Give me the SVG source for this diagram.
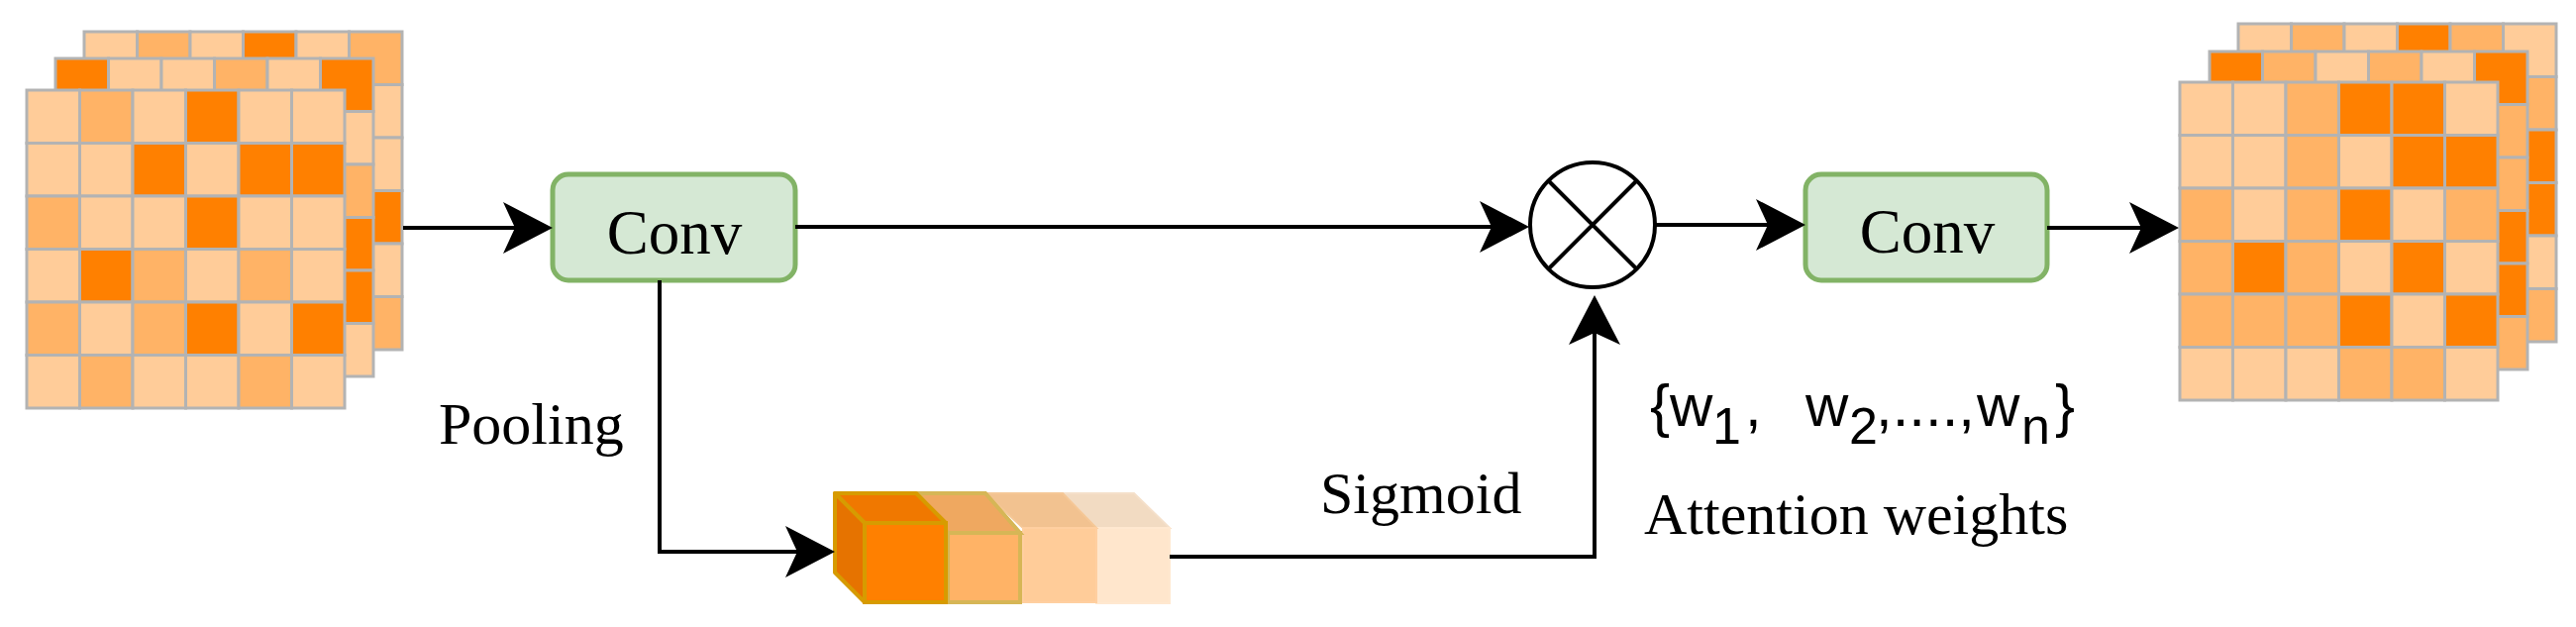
<svg xmlns="http://www.w3.org/2000/svg" xmlns:xlink="http://www.w3.org/1999/xlink" width="2601" height="633" viewBox="0 0 2601 633">
<style>
.L{fill:#FFCC99;stroke:#B3B3B3;stroke-width:3}
.M{fill:#FFB366;stroke:#B3B3B3;stroke-width:3}
.D{fill:#FF8000;stroke:#B3B3B3;stroke-width:3}
.box{fill:#D5E8D4;stroke:#82B366;stroke-width:5}
.lbl{font-family:"Liberation Serif","Times New Roman",serif;font-size:60px;fill:#000}
.conv{font-size:63px}
.sans{font-family:"Liberation Sans",Arial,sans-serif;font-size:60px;fill:#000}
.sub{font-size:52px}
.edge{fill:none;stroke:#000;stroke-width:4}
</style>
<defs>
<marker id="arr" markerUnits="userSpaceOnUse" viewBox="0 0 50 52" markerWidth="50" markerHeight="52" refX="12" refY="26" orient="auto">
<path d="M0,0 L50,26 L0,52 L12,26 Z" fill="#000"/>
</marker>
</defs>

<g id="input-stack">
<g transform="translate(85,32)">
<rect class="L" x="0" y="0" width="53.5" height="53.5"/><rect class="M" x="53.5" y="0" width="53.5" height="53.5"/><rect class="L" x="107" y="0" width="53.5" height="53.5"/><rect class="D" x="160.5" y="0" width="53.5" height="53.5"/><rect class="L" x="214" y="0" width="53.5" height="53.5"/><rect class="M" x="267.5" y="0" width="53.5" height="53.5"/>
<rect class="L" x="267.5" y="53.5" width="53.5" height="53.5"/>
<rect class="L" x="267.5" y="107" width="53.5" height="53.5"/>
<rect class="D" x="267.5" y="160.5" width="53.5" height="53.5"/>
<rect class="L" x="267.5" y="214" width="53.5" height="53.5"/>
<rect class="M" x="267.5" y="267.5" width="53.5" height="53.5"/>
</g>
<g transform="translate(56,59)">
<rect class="D" x="0" y="0" width="53.5" height="53.5"/><rect class="L" x="53.5" y="0" width="53.5" height="53.5"/><rect class="L" x="107" y="0" width="53.5" height="53.5"/><rect class="M" x="160.5" y="0" width="53.5" height="53.5"/><rect class="L" x="214" y="0" width="53.5" height="53.5"/><rect class="D" x="267.5" y="0" width="53.5" height="53.5"/>
<rect class="L" x="267.5" y="53.5" width="53.5" height="53.5"/>
<rect class="M" x="267.5" y="107" width="53.5" height="53.5"/>
<rect class="D" x="267.5" y="160.5" width="53.5" height="53.5"/>
<rect class="D" x="267.5" y="214" width="53.5" height="53.5"/>
<rect class="L" x="267.5" y="267.5" width="53.5" height="53.5"/>
</g>
<g transform="translate(27,91)">
<rect class="L" x="0" y="0" width="53.5" height="53.5"/><rect class="M" x="53.5" y="0" width="53.5" height="53.5"/><rect class="L" x="107" y="0" width="53.5" height="53.5"/><rect class="D" x="160.5" y="0" width="53.5" height="53.5"/><rect class="L" x="214" y="0" width="53.5" height="53.5"/><rect class="L" x="267.5" y="0" width="53.5" height="53.5"/>
<rect class="L" x="0" y="53.5" width="53.5" height="53.5"/><rect class="L" x="53.5" y="53.5" width="53.5" height="53.5"/><rect class="D" x="107" y="53.5" width="53.5" height="53.5"/><rect class="L" x="160.5" y="53.5" width="53.5" height="53.5"/><rect class="D" x="214" y="53.5" width="53.5" height="53.5"/><rect class="D" x="267.5" y="53.5" width="53.5" height="53.5"/>
<rect class="M" x="0" y="107" width="53.5" height="53.5"/><rect class="L" x="53.5" y="107" width="53.5" height="53.5"/><rect class="L" x="107" y="107" width="53.5" height="53.5"/><rect class="D" x="160.5" y="107" width="53.5" height="53.5"/><rect class="L" x="214" y="107" width="53.5" height="53.5"/><rect class="L" x="267.5" y="107" width="53.5" height="53.5"/>
<rect class="L" x="0" y="160.5" width="53.5" height="53.5"/><rect class="D" x="53.5" y="160.5" width="53.5" height="53.5"/><rect class="M" x="107" y="160.5" width="53.5" height="53.5"/><rect class="L" x="160.5" y="160.5" width="53.5" height="53.5"/><rect class="M" x="214" y="160.5" width="53.5" height="53.5"/><rect class="L" x="267.5" y="160.5" width="53.5" height="53.5"/>
<rect class="M" x="0" y="214" width="53.5" height="53.5"/><rect class="L" x="53.5" y="214" width="53.5" height="53.5"/><rect class="M" x="107" y="214" width="53.5" height="53.5"/><rect class="D" x="160.5" y="214" width="53.5" height="53.5"/><rect class="L" x="214" y="214" width="53.5" height="53.5"/><rect class="D" x="267.5" y="214" width="53.5" height="53.5"/>
<rect class="L" x="0" y="267.5" width="53.5" height="53.5"/><rect class="M" x="53.5" y="267.5" width="53.5" height="53.5"/><rect class="L" x="107" y="267.5" width="53.5" height="53.5"/><rect class="L" x="160.5" y="267.5" width="53.5" height="53.5"/><rect class="M" x="214" y="267.5" width="53.5" height="53.5"/><rect class="L" x="267.5" y="267.5" width="53.5" height="53.5"/>
</g>
</g>

<g id="output-stack">
<g transform="translate(2260,24)">
<rect class="L" x="0" y="0" width="53.5" height="53.5"/><rect class="M" x="53.5" y="0" width="53.5" height="53.5"/><rect class="L" x="107" y="0" width="53.5" height="53.5"/><rect class="D" x="160.5" y="0" width="53.5" height="53.5"/><rect class="M" x="214" y="0" width="53.5" height="53.5"/><rect class="L" x="267.5" y="0" width="53.5" height="53.5"/>
<rect class="M" x="267.5" y="53.5" width="53.5" height="53.5"/>
<rect class="D" x="267.5" y="107" width="53.5" height="53.5"/>
<rect class="D" x="267.5" y="160.5" width="53.5" height="53.5"/>
<rect class="L" x="267.5" y="214" width="53.5" height="53.5"/>
<rect class="M" x="267.5" y="267.5" width="53.5" height="53.5"/>
</g>
<g transform="translate(2231,52)">
<rect class="D" x="0" y="0" width="53.5" height="53.5"/><rect class="M" x="53.5" y="0" width="53.5" height="53.5"/><rect class="L" x="107" y="0" width="53.5" height="53.5"/><rect class="M" x="160.5" y="0" width="53.5" height="53.5"/><rect class="L" x="214" y="0" width="53.5" height="53.5"/><rect class="D" x="267.5" y="0" width="53.5" height="53.5"/>
<rect class="M" x="267.5" y="53.5" width="53.5" height="53.5"/>
<rect class="M" x="267.5" y="107" width="53.5" height="53.5"/>
<rect class="D" x="267.5" y="160.5" width="53.5" height="53.5"/>
<rect class="D" x="267.5" y="214" width="53.5" height="53.5"/>
<rect class="M" x="267.5" y="267.5" width="53.5" height="53.5"/>
</g>
<g transform="translate(2201,83)">
<rect class="L" x="0" y="0" width="53.5" height="53.5"/><rect class="L" x="53.5" y="0" width="53.5" height="53.5"/><rect class="M" x="107" y="0" width="53.5" height="53.5"/><rect class="D" x="160.5" y="0" width="53.5" height="53.5"/><rect class="D" x="214" y="0" width="53.5" height="53.5"/><rect class="L" x="267.5" y="0" width="53.5" height="53.5"/>
<rect class="L" x="0" y="53.5" width="53.5" height="53.5"/><rect class="L" x="53.5" y="53.5" width="53.5" height="53.5"/><rect class="M" x="107" y="53.5" width="53.5" height="53.5"/><rect class="L" x="160.5" y="53.5" width="53.5" height="53.5"/><rect class="D" x="214" y="53.5" width="53.5" height="53.5"/><rect class="D" x="267.5" y="53.5" width="53.5" height="53.5"/>
<rect class="M" x="0" y="107" width="53.5" height="53.5"/><rect class="L" x="53.5" y="107" width="53.5" height="53.5"/><rect class="M" x="107" y="107" width="53.5" height="53.5"/><rect class="D" x="160.5" y="107" width="53.5" height="53.5"/><rect class="L" x="214" y="107" width="53.5" height="53.5"/><rect class="M" x="267.5" y="107" width="53.5" height="53.5"/>
<rect class="M" x="0" y="160.5" width="53.5" height="53.5"/><rect class="D" x="53.5" y="160.5" width="53.5" height="53.5"/><rect class="M" x="107" y="160.5" width="53.5" height="53.5"/><rect class="L" x="160.5" y="160.5" width="53.5" height="53.5"/><rect class="D" x="214" y="160.5" width="53.5" height="53.5"/><rect class="L" x="267.5" y="160.5" width="53.5" height="53.5"/>
<rect class="M" x="0" y="214" width="53.5" height="53.5"/><rect class="M" x="53.5" y="214" width="53.5" height="53.5"/><rect class="M" x="107" y="214" width="53.5" height="53.5"/><rect class="D" x="160.5" y="214" width="53.5" height="53.5"/><rect class="L" x="214" y="214" width="53.5" height="53.5"/><rect class="D" x="267.5" y="214" width="53.5" height="53.5"/>
<rect class="L" x="0" y="267.5" width="53.5" height="53.5"/><rect class="L" x="53.5" y="267.5" width="53.5" height="53.5"/><rect class="L" x="107" y="267.5" width="53.5" height="53.5"/><rect class="M" x="160.5" y="267.5" width="53.5" height="53.5"/><rect class="M" x="214" y="267.5" width="53.5" height="53.5"/><rect class="L" x="267.5" y="267.5" width="53.5" height="53.5"/>
</g>
</g>

<g id="conv1">
<rect class="box" x="558" y="176" width="245" height="107" rx="16"/>
<text class="lbl conv" x="681" y="256" text-anchor="middle">Conv</text>
</g>

<g id="conv2">
<rect class="box" x="1823" y="176" width="244" height="107" rx="16"/>
<text class="lbl conv" x="1946" y="255" text-anchor="middle">Conv</text>
</g>

<g id="multiply">
<circle cx="1608" cy="227" r="63" fill="#fff" stroke="#000" stroke-width="4"/>
<path d="M1563.5,182.5 L1652.5,271.5 M1652.5,182.5 L1563.5,271.5" stroke="#000" stroke-width="4" fill="none"/>
</g>

<g id="weights-vector">
<g>
<polygon points="1073,498 1145,498 1181,533 1107,533" fill="#F2DBC2" stroke="#F5E0CA" stroke-width="2"/>
<rect x="1107" y="533" width="74" height="76" fill="#FFE6CC" stroke="#FFE8D0" stroke-width="2"/>
</g>
<g>
<polygon points="995,498 1073,498 1107,533 1033,533" fill="#F2C290" stroke="#F5C796" stroke-width="2"/>
<rect x="1033" y="533" width="74" height="75" fill="#FFCC99" stroke="#FFCFA0" stroke-width="2"/>
</g>
<g>
<polygon points="927,498 995,498 1030,538 957,538" fill="#EFA860" stroke="#D6B656" stroke-width="4"/>
<rect x="957" y="538" width="73" height="70" fill="#FFB366" stroke="#D6B656" stroke-width="4"/>
</g>
<g>
<polygon points="843,498 925,498 955,528 873,528" fill="#F07800" stroke="#D79B00" stroke-width="4" stroke-linejoin="round"/>
<polygon points="843,498 873,528 873,608 843,578" fill="#E67300" stroke="#D79B00" stroke-width="4" stroke-linejoin="round"/>
<rect x="873" y="528" width="82" height="80" fill="#FF8000" stroke="#D79B00" stroke-width="4"/>
</g>
</g>

<g id="labels">
<text class="lbl" x="443" y="448">Pooling</text>
<text class="lbl" x="1333" y="518">Sigmoid</text>
<text class="sans" y="430"><tspan x="1666">{</tspan><tspan x="1686">w</tspan><tspan class="sub" x="1729" dy="18">1</tspan><tspan x="1762" dy="-18">,</tspan><tspan x="1823">w</tspan><tspan class="sub" x="1867" dy="18">2</tspan><tspan x="1894" dy="-18">,....,</tspan><tspan x="1996">w</tspan><tspan class="sub" x="2041" dy="18">n</tspan><tspan x="2075" dy="-18">}</tspan></text>
<text class="lbl" x="1660" y="539">Attention weights</text>
</g>

<g id="connectors">
<path class="edge" d="M407,230 H520" marker-end="url(#arr)"/>
<path class="edge" d="M803,229 H1506" marker-end="url(#arr)"/>
<path class="edge" d="M1672,227 H1785" marker-end="url(#arr)"/>
<path class="edge" d="M2067,230 H2162" marker-end="url(#arr)"/>
<path class="edge" d="M666,283 V557 H805" marker-end="url(#arr)"/>
<path class="edge" d="M1181,562 H1610 V336" marker-end="url(#arr)"/>
</g>
</svg>
